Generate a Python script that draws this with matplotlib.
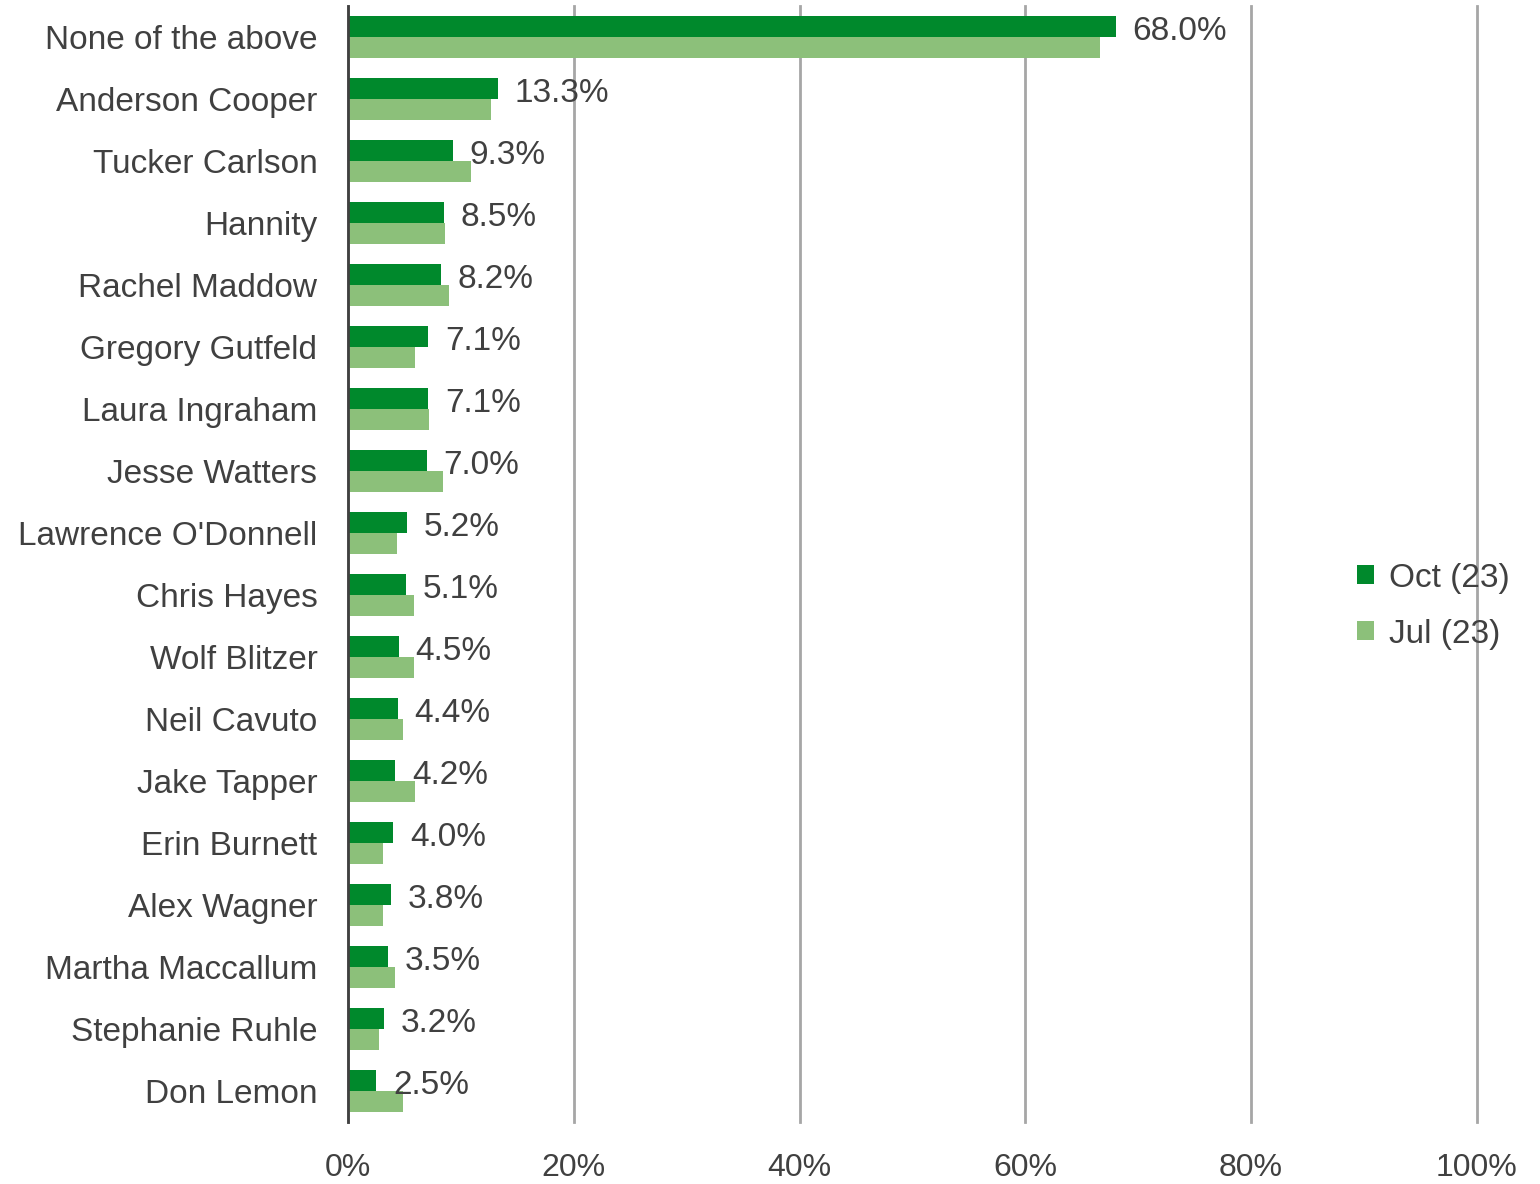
import matplotlib as mpl
mpl.use("Agg")
import matplotlib.pyplot as plt
import numpy as np

names = [
    "None of the above", "Anderson Cooper", "Tucker Carlson", "Hannity",
    "Rachel Maddow", "Gregory Gutfeld", "Laura Ingraham", "Jesse Watters",
    "Lawrence O'Donnell", "Chris Hayes", "Wolf Blitzer", "Neil Cavuto",
    "Jake Tapper", "Erin Burnett", "Alex Wagner", "Martha Maccallum",
    "Stephanie Ruhle", "Don Lemon",
]
oct_23 = [68.0, 13.3, 9.3, 8.5, 8.2, 7.1, 7.1, 7.0, 5.2, 5.1, 4.5, 4.4, 4.2, 4.0, 3.8, 3.5, 3.2, 2.5]
jul_23 = [66.6, 12.7, 10.9, 8.6, 8.9, 5.9, 7.2, 8.4, 4.3, 5.8, 5.8, 4.9, 5.9, 3.1, 3.1, 4.2, 2.7, 4.9]
series_labels = ["Oct (23)", "Jul (23)"]

DARK = "#00892c"
LIGHT = "#8cc07a"
TEXT = "#404040"

plt.rcParams["font.family"] = ["Liberation Sans", "DejaVu Sans"]

fig = plt.figure(figsize=(15.4, 11.84), dpi=100)
ax = fig.add_axes([0.226, 0.0524, 0.733, 0.9426])

y = np.arange(len(names))
h = 0.34
b1 = ax.barh(y - h / 2, oct_23, height=h, color=DARK, label=series_labels[0], zorder=2)
b2 = ax.barh(y + h / 2, jul_23, height=h, color=LIGHT, label=series_labels[1], zorder=2)

# value labels sit beside the Oct bars
for yi, v in zip(y, oct_23):
    ax.annotate(f"{v:.1f}%", (v, yi - h / 2), xytext=(12, -4), textcoords="offset points",
                ha="left", va="center", fontsize=24, color=TEXT, zorder=3)

ax.set_xlim(0, 100)
ax.set_ylim(len(names) - 0.5, -0.5)
ax.set_yticks(y)
ax.set_yticklabels(names, fontsize=24, color=TEXT)
ax.set_xticks(np.arange(0, 101, 20))
ax.set_xticklabels([f"{t}%" for t in range(0, 101, 20)], fontsize=23, color=TEXT)
ax.tick_params(axis="both", length=0)
ax.tick_params(axis="x", pad=22)
ax.tick_params(axis="y", pad=22)

ax.grid(axis="x", color="#a6a6a6", linewidth=2, zorder=1)
ax.set_axisbelow(True)
for gl in ax.get_xgridlines():
    gl.set_clip_on(False)
for s in ["top", "right", "bottom"]:
    ax.spines[s].set_visible(False)
ax.spines["left"].set_color(TEXT)
ax.spines["left"].set_linewidth(2)
ax.spines["left"].set_zorder(3)

fig.legend(handles=[b1, b2], loc="center left", bbox_to_anchor=(0.862, 0.488),
           frameon=False, fontsize=24, handlelength=0.5, handleheight=0.5,
           handletextpad=0.45, labelspacing=0.75, labelcolor=TEXT)

fig.savefig("out.png", dpi=100, facecolor="white")
